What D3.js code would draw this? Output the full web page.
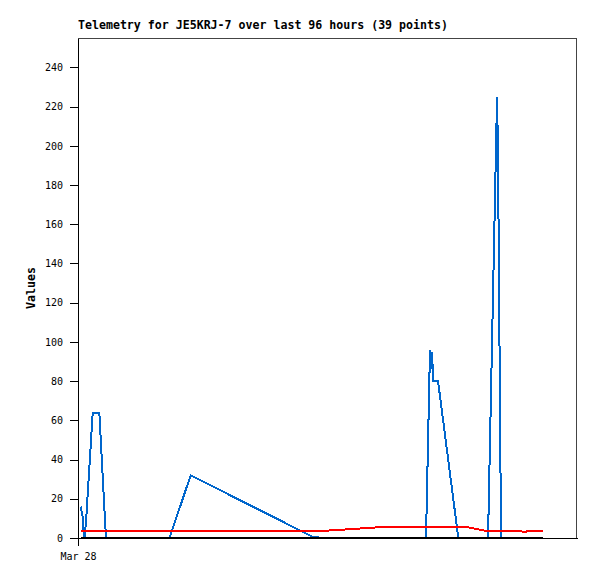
<!DOCTYPE html>
<html lang="en">
<head>
<meta charset="UTF-8">
<title>Telemetry</title>
<style>
    body { margin: 0; background: #fff; }
    .axis { font: 10px "DejaVu Sans Mono", monospace; }
    .axis path, .axis line { fill: none; stroke: #000; shape-rendering: crispEdges; }
    .title, .ylabel { font: bold 11.6px "DejaVu Sans Mono", monospace; }
</style>
</head>
<body>
<div id="graph"></div>
<script src="https://cdnjs.cloudflare.com/ajax/libs/d3/7.8.5/d3.min.js"></script>
<script>
// packet times (39 points) and channel values
var times = [
    "2024-03-28T00:29", "2024-03-28T00:54", "2024-03-28T01:03", "2024-03-28T01:15", "2024-03-28T01:32",
    "2024-03-28T02:50", "2024-03-28T04:06", "2024-03-28T05:23", "2024-03-28T10:00", "2024-03-28T13:51",
    "2024-03-28T17:36", "2024-03-28T21:41", "2024-03-29T09:05", "2024-03-29T14:52", "2024-03-29T21:13",
    "2024-03-29T23:31", "2024-03-30T04:20", "2024-03-30T08:11", "2024-03-30T11:38", "2024-03-30T13:57",
    "2024-03-30T18:57", "2024-03-30T19:43", "2024-03-30T19:55", "2024-03-30T20:06", "2024-03-30T20:21",
    "2024-03-30T21:16", "2024-03-31T01:10", "2024-03-31T02:27", "2024-03-31T06:18", "2024-03-31T06:53",
    "2024-03-31T08:37", "2024-03-31T08:48", "2024-03-31T09:23", "2024-03-31T11:07", "2024-03-31T13:02",
    "2024-03-31T14:00", "2024-03-31T14:34", "2024-03-31T15:55", "2024-03-31T17:28"
];
var blueValues = [16, 11, 4, 0, 8, 64, 64, 0, 0, 0, 0, 32, 16.7, 9, 0.5, 0, 0, 0, 0, 0,
    0, 96, 86, 94.6, 80, 80, 0, 0, 0, 0, 225, 197, 0, 0, 0, 0, 0, 0, 0];
var redValues = [3.7, 3.7, 3.7, 3.7, 3.7, 3.7, 3.7, 3.7, 3.7, 3.7, 3.7, 3.7, 3.7, 3.7, 3.7,
    3.7, 4.5, 5.2, 5.8, 5.8, 5.8, 5.8, 5.8, 5.8, 5.8, 5.8, 5.8, 5.8, 3.7, 3.7,
    3.7, 3.7, 3.7, 3.7, 3.7, 2.8, 3.7, 3.7, 3.7];
var blackValues = times.map(function () { return 0; });
var yTicks = [0, 20, 40, 60, 80, 100, 120, 140, 160, 180, 200, 220, 240];
var xTicks = ["2024-03-28T00:00"];
var xTickLabels = ["Mar 28"];

var margin = { top: 38, right: 20, bottom: 41, left: 78 },
    width = 597 - margin.left - margin.right,
    height = 579 - margin.top - margin.bottom;

var svg = d3.select("#graph").append("svg")
    .attr("width", 597)
    .attr("height", 579)
    .append("g")
    .attr("transform", "translate(" + margin.left + "," + margin.top + ")");

var parse = d3.timeParse("%Y-%m-%dT%H:%M");

var x = d3.scaleTime()
    .domain([parse("2024-03-28T00:00"), parse("2024-04-01T00:00")])
    .range([0, width]);
var y = d3.scaleLinear().domain([0, 255]).range([height, 0]);

// frame top + right
svg.append("path")
    .attr("d", "M0,0.5H" + (width - 0.5) + "V" + height)
    .attr("fill", "none")
    .attr("stroke", "#444")
    .attr("shape-rendering", "crispEdges");

svg.append("g")
    .attr("class", "x axis")
    .attr("transform", "translate(0," + height + ")")
    .call(d3.axisBottom(x)
        .tickValues(xTicks.map(parse))
        .tickSize(8)
        .tickSizeOuter(0)
        .tickFormat(function (d, i) { return xTickLabels[i]; }))
    .selectAll("text")
    .attr("dy", "1.1em");

svg.append("g")
    .attr("class", "y axis")
    .call(d3.axisLeft(y).tickValues(yTicks).tickSize(8).tickSizeOuter(0).tickPadding(7));

svg.append("text")
    .attr("class", "title")
    .attr("x", 0)
    .attr("y", -9)
    .text("Telemetry for JE5KRJ-7 over last 96 hours (39 points)");

svg.append("text")
    .attr("class", "ylabel")
    .attr("transform", "translate(-43," + (height / 2) + ") rotate(-90)")
    .attr("text-anchor", "middle")
    .text("Values");

var series = [
    { values: blueValues, color: "#0066cc" },
    { values: redValues, color: "#ff0000" },
    { values: blackValues, color: "#000000" }
];

series.forEach(function (s) {
    var pts = times.map(function (t, i) { return { date: parse(t), value: s.values[i] }; });
    var line = d3.line().x(d => x(d.date)).y(d => y(d.value));
    svg.append("path")
        .datum(pts)
        .attr("fill", "none")
        .attr("stroke", s.color)
        .attr("stroke-width", 2)
        .attr("shape-rendering", "crispEdges")
        .attr("d", line);
});
</script>
</body>
</html>
